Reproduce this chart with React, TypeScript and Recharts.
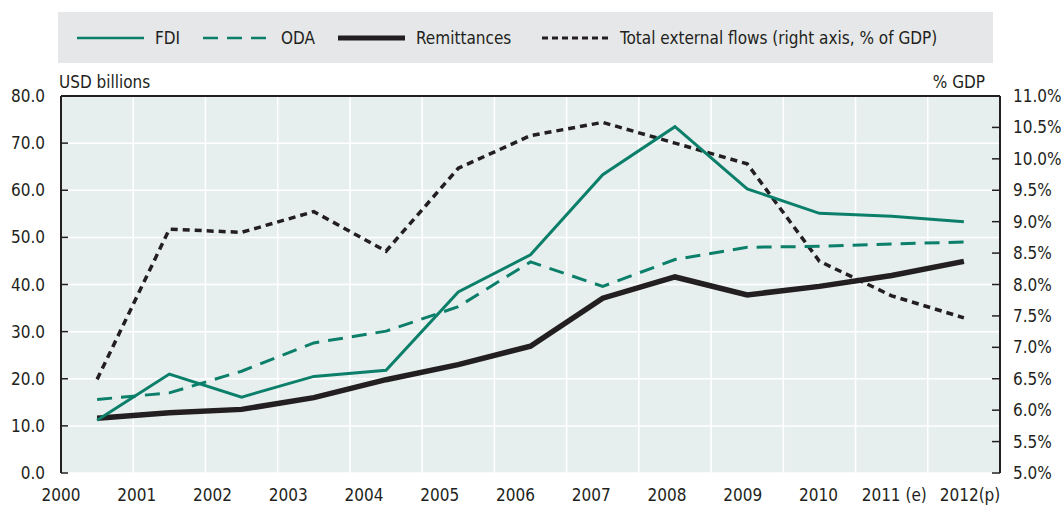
import React from 'react';
import {
  LineChart,
  Line,
  XAxis,
  YAxis,
  CartesianGrid,
  ReferenceLine,
} from 'recharts';

const years = ['2000', '2001', '2002', '2003', '2004', '2005', '2006', '2007', '2008', '2009', '2010', '2011 (e)', '2012(p)'];
const fdi = [11.2, 21.0, 16.1, 20.5, 21.8, 38.4, 46.3, 63.3, 73.5, 60.3, 55.1, 54.5, 53.3];
const oda = [15.6, 17.0, 21.6, 27.6, 30.1, 35.3, 44.8, 39.6, 45.3, 47.9, 48.1, 48.6, 49.0];
const remittances = [11.6, 12.8, 13.5, 16.0, 19.8, 23.0, 26.9, 37.1, 41.6, 37.8, 39.6, 41.9, 44.9];
const totalFlows = [6.49, 8.88, 8.83, 9.16, 8.53, 9.85, 10.37, 10.58, 10.25, 9.92, 8.37, 7.82, 7.47];

const leftTicks = [0, 10, 20, 30, 40, 50, 60, 70, 80];
const rightTicks = [5, 5.5, 6, 6.5, 7, 7.5, 8, 8.5, 9, 9.5, 10, 10.5, 11];
const bandTicks = years.map((_, i) => i).concat(years.length);

// each year sits in the middle of its band on the numeric axis
const data = years.map((year, i) => ({
  year,
  pos: i + 0.5,
  fdi: fdi[i],
  oda: oda[i],
  remittances: remittances[i],
  total: totalFlows[i],
}));

const GREEN = '#0b7f6a';
const DARK = '#231f20';
const FONT = "'DejaVu Sans Condensed', 'Liberation Sans', sans-serif";
const FS = 17;

const legendItems = [
  { label: 'FDI', color: GREEN, width: 2.5, dash: undefined, left: 19 },
  { label: 'ODA', color: GREEN, width: 2.5, dash: '15 9', left: 145 },
  { label: 'Remittances', color: DARK, width: 5, dash: undefined, left: 280 },
  { label: 'Total external flows (right axis, % of GDP)', color: DARK, width: 3, dash: '6 4', left: 484 },
];

function LegendBox() {
  return (
    <div
      style={{
        position: 'absolute',
        left: 58,
        top: 12,
        width: 935,
        height: 51,
        background: '#e6e7e8',
      }}
    >
      {legendItems.map((item) => (
        <div
          key={item.label}
          style={{
            position: 'absolute',
            left: item.left,
            top: 0,
            height: 51,
            display: 'flex',
            alignItems: 'center',
            whiteSpace: 'nowrap',
          }}
        >
          <svg width={67} height={10} style={{ marginRight: 11 }}>
            <line
              x1={0}
              y1={5}
              x2={67}
              y2={5}
              stroke={item.color}
              strokeWidth={item.width}
              strokeDasharray={item.dash}
            />
          </svg>
          <span style={{ fontSize: FS, color: DARK }}>{item.label}</span>
        </div>
      ))}
    </div>
  );
}

const emptyTick = () => <g />;

export default function App() {
  return (
    <div
      style={{
        position: 'absolute',
        left: 0,
        top: 0,
        width: 1061,
        height: 507,
        fontFamily: FONT,
        background: '#fff',
      }}
    >
      <LegendBox />
      <div style={{ position: 'absolute', left: 59, top: 74, fontSize: FS, lineHeight: `${FS}px`, color: DARK }}>
        USD billions
      </div>
      <div style={{ position: 'absolute', right: 76, top: 74, fontSize: FS, lineHeight: `${FS}px`, color: DARK }}>
        % GDP
      </div>
      <LineChart
        width={1061}
        height={507}
        data={data}
        margin={{ top: 96, right: 0, bottom: 4, left: 6 }}
        style={{ fontFamily: FONT }}
      >
        <CartesianGrid
          xAxisId="num"
          yAxisId="left"
          fill="#e7efee"
          fillOpacity={1}
          stroke="#ffffff"
          strokeWidth={1.5}
        />
        <XAxis
          xAxisId="num"
          type="number"
          dataKey="pos"
          domain={[0, 13]}
          ticks={bandTicks}
          allowDataOverflow
          height={0}
          tick={emptyTick}
          tickSize={-7}
          axisLine={{ stroke: DARK, strokeWidth: 2 }}
          tickLine={{ stroke: DARK, strokeWidth: 1.5 }}
        />
        <XAxis
          xAxisId="lab"
          type="category"
          scale="point"
          dataKey="year"
          padding={{ left: 0, right: 30 }}
          height={30}
          axisLine={false}
          tickLine={false}
          tickSize={0}
          tickMargin={16}
          interval={0}
          tick={{ fontSize: FS, fill: DARK, fontFamily: FONT }}
        />
        <YAxis
          yAxisId="left"
          orientation="left"
          width={55}
          domain={[0, 80]}
          ticks={leftTicks}
          interval={0}
          tickFormatter={(v: number) => v.toFixed(1)}
          tickSize={-7}
          tickMargin={23}
          axisLine={{ stroke: DARK, strokeWidth: 2 }}
          tickLine={{ stroke: DARK, strokeWidth: 1.5 }}
          tick={{ fontSize: FS, fill: DARK, fontFamily: FONT }}
        />
        <YAxis
          yAxisId="right"
          orientation="right"
          width={61}
          domain={[5, 11]}
          ticks={rightTicks}
          interval={0}
          tickFormatter={(v: number) => `${v.toFixed(1)}%`}
          tickSize={-8}
          tickMargin={21}
          axisLine={{ stroke: DARK, strokeWidth: 2 }}
          tickLine={{ stroke: DARK, strokeWidth: 1.5 }}
          tick={{ fontSize: FS, fill: DARK, fontFamily: FONT }}
        />
        <ReferenceLine xAxisId="num" yAxisId="left" y={80} stroke={DARK} strokeWidth={2} />

        <Line
          xAxisId="num"
          yAxisId="right"
          dataKey="total"
          stroke={DARK}
          strokeWidth={3.5}
          strokeDasharray="7 5"
          dot={false}
          isAnimationActive={false}
        />
        <Line
          xAxisId="num"
          yAxisId="left"
          dataKey="oda"
          stroke={GREEN}
          strokeWidth={3}
          strokeDasharray="15 9"
          dot={false}
          isAnimationActive={false}
        />
        <Line
          xAxisId="num"
          yAxisId="left"
          dataKey="remittances"
          stroke={DARK}
          strokeWidth={5.5}
          dot={false}
          isAnimationActive={false}
        />
        <Line
          xAxisId="num"
          yAxisId="left"
          dataKey="fdi"
          stroke={GREEN}
          strokeWidth={3}
          dot={false}
          isAnimationActive={false}
        />
      </LineChart>
    </div>
  );
}
